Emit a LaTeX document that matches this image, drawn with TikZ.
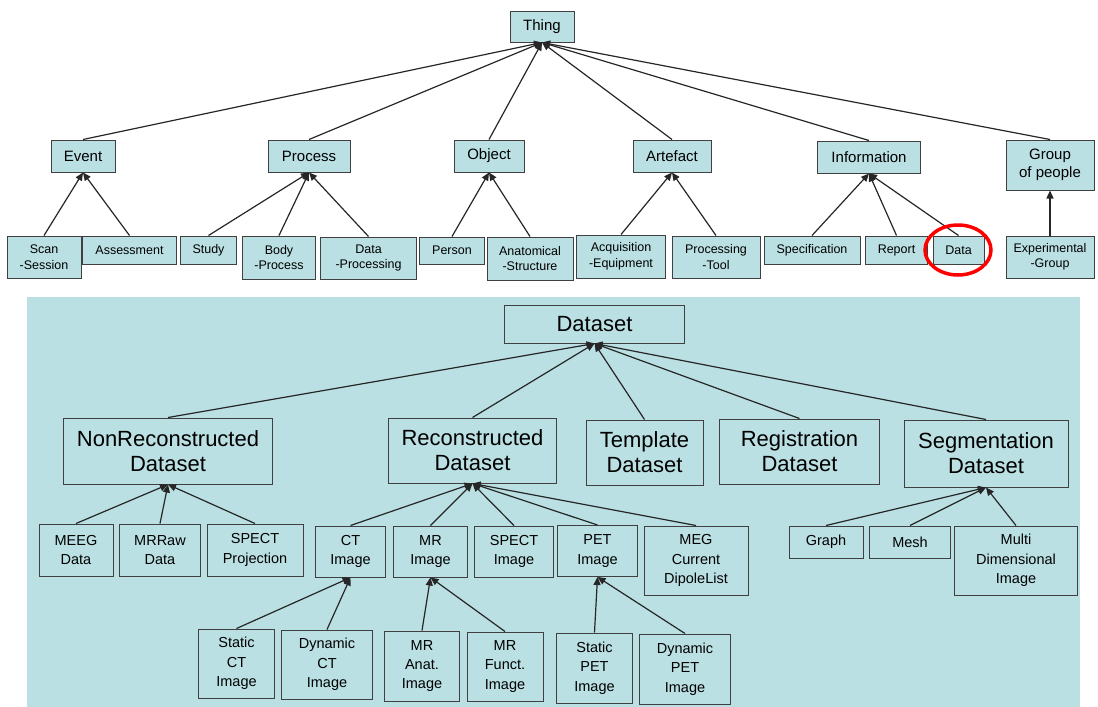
\documentclass[tikz,border=0pt]{standalone}
\usepackage{fontspec}
\setmainfont{Liberation Sans}
\usepackage{tikz}
\usetikzlibrary{arrows.meta,positioning,shapes}
\definecolor{boxblue}{RGB}{186,224,227}

\begin{document}
\begin{tikzpicture}[x=1pt, y=-1pt]
		\tikzstyle{Box}		= [rectangle, draw=black!75, line width=1pt, fill=boxblue, align=center, inner sep=1pt]
		\tikzstyle{Mid}		= [Box, font=\fontsize{15}{18.5}\selectfont]
		\tikzstyle{Small}	= [Box, font=\fontsize{12.5}{15.5}\selectfont]
		\tikzstyle{Big}		= [Box, font=\fontsize{22}{25}\selectfont]
		\tikzstyle{Leaf}	= [Box, font=\fontsize{14.5}{19.3}\selectfont]
		\tikzstyle{Isa}		= [-{Triangle[length=8pt, width=7pt]}, line width=1.2pt, black!85]

		\useasboundingbox (0,0) rectangle (1098,707);
		\fill [boxblue] (27,297) rectangle (1080,707);

		% upper ontology
		\node (thing) at (542,26.5) [Mid, minimum width=64, minimum height=31] {Thing};
		\node (event) at (83,156) [Mid, minimum width=64, minimum height=32] {Event};
		\node (process) at (309,156) [Mid, minimum width=82, minimum height=32] {Process};
		\node (object) at (489,156) [Mid, minimum width=70, minimum height=32] {Object};
		\node (artefact) at (672,156) [Mid, minimum width=78, minimum height=32] {Artefact};
		\node (information) at (869,157) [Mid, minimum width=103, minimum height=32] {Information};
		\node (group) at (1050,165) [Mid, minimum width=88, minimum height=50] {Group\\of people};

		\node (scan) at (44,257) [Small, minimum width=74, minimum height=42] {Scan\\-Session};
		\node (assess) at (129.5,250) [Small, minimum width=94, minimum height=28] {Assessment};
		\node (study) at (208.5,250) [Small, minimum width=56, minimum height=28] {Study};
		\node (body) at (279,257.5) [Small, minimum width=73, minimum height=43] {Body\\-Process};
		\node (dataproc) at (368.5,258) [Small, minimum width=96, minimum height=42] {Data\\-Processing};
		\node (person) at (452,250.5) [Small, minimum width=65, minimum height=27] {Person};
		\node (anat) at (530,258.5) [Small, minimum width=86, minimum height=43] {Anatomical\\-Structure};
		\node (acq) at (621,256.5) [Small, minimum width=89, minimum height=43] {Acquisition\\-Equipment};
		\node (proctool) at (716,257) [Small, minimum width=88, minimum height=42] {Processing\\-Tool};
		\node (spec) at (812,250) [Small, minimum width=96, minimum height=28] {Specification};
		\node (report) at (896.5,250) [Small, minimum width=62, minimum height=28] {Report};
		\node (data) at (958.5,250) [Small, minimum width=51, minimum height=28] {Data};
		\node (expgroup) at (1050,257) [Small, minimum width=88, minimum height=42] {Experimental\\-Group};

		\draw [Isa] (event.north) to (thing.south);
		\draw [Isa] (process.north) to (thing.south);
		\draw [Isa] (object.north) to (thing.south);
		\draw [Isa] (artefact.north) to (thing.south);
		\draw [Isa] (information.north) to (thing.south);
		\draw [Isa] (group.north) to (thing.south);
		\draw [Isa] (scan.north) to (event.south);
		\draw [Isa] (assess.north) to (event.south);
		\draw [Isa] (study.north) to (process.south);
		\draw [Isa] (body.north) to (process.south);
		\draw [Isa] (dataproc.north) to (process.south);
		\draw [Isa] (person.north) to (object.south);
		\draw [Isa] (anat.north) to (object.south);
		\draw [Isa] (acq.north) to (artefact.south);
		\draw [Isa] (proctool.north) to (artefact.south);
		\draw [Isa] (spec.north) to (information.south);
		\draw [Isa] (report.north) to (information.south);
		\draw [Isa] (data.north) to (information.south);
		\draw [Isa] (expgroup.north) to (group.south);

		\draw [red, line width=3.5pt] (958,250) ellipse [x radius=33pt, y radius=25pt];

		% dataset panel
		\node (dataset) at (594.5,324) [Big, minimum width=180, minimum height=38] {Dataset};
		\node (nonrec) at (168,451) [Big, minimum width=209, minimum height=66] {NonReconstructed\\Dataset};
		\node (rec) at (472.5,450.5) [Big, minimum width=168, minimum height=65] {Reconstructed\\Dataset};
		\node (template) at (644.5,452.5) [Big, minimum width=117, minimum height=65] {Template\\Dataset};
		\node (registration) at (799.5,451.5) [Big, minimum width=160, minimum height=65] {Registration\\Dataset};
		\node (segmentation) at (986,453.5) [Big, minimum width=164, minimum height=67] {Segmentation\\Dataset};

		\node (meeg) at (76,550) [Leaf, minimum width=74, minimum height=52] {MEEG\\Data};
		\node (mrraw) at (160,550) [Leaf, minimum width=81, minimum height=52] {MRRaw\\Data};
		\node (spectproj) at (255,550) [Leaf, minimum width=96, minimum height=52] {SPECT\\Projection};
		\node (ct) at (350.5,551.5) [Leaf, minimum width=70, minimum height=51] {CT\\Image};
		\node (mr) at (430.5,551.5) [Leaf, minimum width=74, minimum height=51] {MR\\Image};
		\node (spectimg) at (514,551.5) [Leaf, minimum width=79, minimum height=51] {SPECT\\Image};
		\node (pet) at (597.5,551) [Leaf, minimum width=80, minimum height=51] {PET\\Image};
		\node (meg) at (696,560.5) [Leaf, minimum width=104, minimum height=69] {MEG\\Current\\DipoleList};
		\node (graph) at (826,542) [Leaf, minimum width=74, minimum height=32] {Graph};
		\node (mesh) at (910,542) [Leaf, minimum width=81, minimum height=32] {Mesh};
		\node (multi) at (1016,560.5) [Leaf, minimum width=123, minimum height=69] {Multi\\Dimensional\\Image};

		\node (staticct) at (236.5,663.5) [Leaf, minimum width=76, minimum height=69] {Static\\CT\\Image};
		\node (dynct) at (327,664.5) [Leaf, minimum width=91, minimum height=69] {Dynamic\\CT\\Image};
		\node (mranat) at (422,666) [Leaf, minimum width=75, minimum height=70] {MR\\Anat.\\Image};
		\node (mrfunct) at (505,666.5) [Leaf, minimum width=76, minimum height=69] {MR\\Funct.\\Image};
		\node (staticpet) at (594.5,668) [Leaf, minimum width=76, minimum height=70] {Static\\PET\\Image};
		\node (dynpet) at (685,669) [Leaf, minimum width=91, minimum height=70] {Dynamic\\PET\\Image};

		\draw [Isa] (nonrec.north) to (dataset.south);
		\draw [Isa] (rec.north) to (dataset.south);
		\draw [Isa] (template.north) to (dataset.south);
		\draw [Isa] (registration.north) to (dataset.south);
		\draw [Isa] (segmentation.north) to (dataset.south);
		\draw [Isa] (meeg.north) to (nonrec.south);
		\draw [Isa] (mrraw.north) to (nonrec.south);
		\draw [Isa] (spectproj.north) to (nonrec.south);
		\draw [Isa] (ct.north) to (rec.south);
		\draw [Isa] (mr.north) to (rec.south);
		\draw [Isa] (spectimg.north) to (rec.south);
		\draw [Isa] (pet.north) to (rec.south);
		\draw [Isa] (meg.north) to (rec.south);
		\draw [Isa] (graph.north) to (segmentation.south);
		\draw [Isa] (mesh.north) to (segmentation.south);
		\draw [Isa] (multi.north) to (segmentation.south);
		\draw [Isa] (staticct.north) to (ct.south);
		\draw [Isa] (dynct.north) to (ct.south);
		\draw [Isa] (mranat.north) to (mr.south);
		\draw [Isa] (mrfunct.north) to (mr.south);
		\draw [Isa] (staticpet.north) to (pet.south);
		\draw [Isa] (dynpet.north) to (pet.south);
	\end{tikzpicture}
\end{document}
